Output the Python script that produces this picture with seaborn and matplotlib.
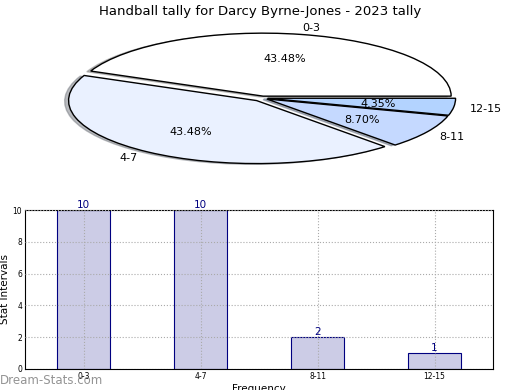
import matplotlib
matplotlib.use("Agg")
import matplotlib.pyplot as plt
import seaborn as sns

sns.set_style("white")
plt.rcParams['font.family'] = ['DejaVu Sans']
plt.rcParams['text.color'] = 'black'
plt.rcParams['axes.labelcolor'] = 'black'
plt.rcParams['xtick.color'] = 'black'
plt.rcParams['ytick.color'] = 'black'

# -----------------------------
# DATA
# -----------------------------
categories = ["0-3", "4-7", "8-11", "12-15"]
counts = [10, 10, 2, 1]
pie_colors = ["#ffffff", "#eaf1ff", "#c5d9ff", "#b3d3ff"]
explode = [0.03, 0.05, 0.03, 0.03]

fig = plt.figure(figsize=(5.2, 3.9), dpi=100)

# -----------------------------
# 1. Flattened pie
# -----------------------------
# axes box centred on the pie, radius 188 px wide / 63 px tall
ax1 = fig.add_axes([50 / 520, 1 - 176 / 390, 424 / 520, 156 / 390])
wedges, texts, autotexts = ax1.pie(
    counts, labels=categories, colors=pie_colors, explode=explode,
    startangle=0, counterclock=True,
    shadow=dict(ox=-0.015, oy=-0.008, shade=0.5),
    autopct="%.2f%%", pctdistance=0.6, labeldistance=1.12,
    wedgeprops=dict(edgecolor="black", linewidth=1.0),
    textprops=dict(fontsize=8, color="black"),
)
ax1.set_aspect("auto")
ax1.set_xlim(-212 / 188, 212 / 188)
ax1.set_ylim(-78 / 63, 78 / 63)

# label / percentage placement
label_pos = [(0.26, 1.11), (-0.71, -0.95), (1.01, -0.62), (1.19, -0.18)]
for t, p in zip(texts, label_pos):
    t.set_position(p)
    t.set_ha("center")
    t.set_va("center")
pct_pos = [(0.12, 0.62), (-0.38, -0.54), (0.53, -0.35), (0.62, -0.10)]
for t, p in zip(autotexts, pct_pos):
    t.set_position(p)

fig.text(0.5, 1 - 11 / 390, "Handball tally for Darcy Byrne-Jones - 2023 tally",
         ha="center", va="center", fontsize=9.5)

# -----------------------------
# 2. Bar chart
# -----------------------------
ax2 = fig.add_axes([25 / 520, 21 / 390, 468 / 520, 159 / 390])
sns.barplot(x=categories, y=counts, ax=ax2, width=0.45, color="#ccccE6",
            saturation=1, edgecolor="#000080", linewidth=0.8)
ax2.set_xlim(-0.5, 3.5)
ax2.set_ylim(0, 10)
ax2.set_yticks([0, 2, 4, 6, 8, 10])
ax2.grid(True, linestyle=":", color="#aaaaaa", linewidth=0.8)
ax2.set_axisbelow(False)
for i, v in enumerate(counts):
    ax2.text(i, v, str(v), ha="center", va="bottom", color="#000080", fontsize=7.5)
ax2.tick_params(axis="both", labelsize=5.5, length=2, direction="in", pad=2)
ax2.set_ylabel("Stat Intervals", fontsize=7.5, labelpad=2)
ax2.set_xlabel("Frequency", fontsize=7.5, labelpad=2)
for s in ax2.spines.values():
    s.set_color("black")
    s.set_linewidth(0.8)

fig.text(0.0, 10 / 390, "Dream-Stats.com", color="#888888", fontsize=8.5,
         ha="left", va="center", alpha=0.9)

fig.savefig("out.png", dpi=100)
